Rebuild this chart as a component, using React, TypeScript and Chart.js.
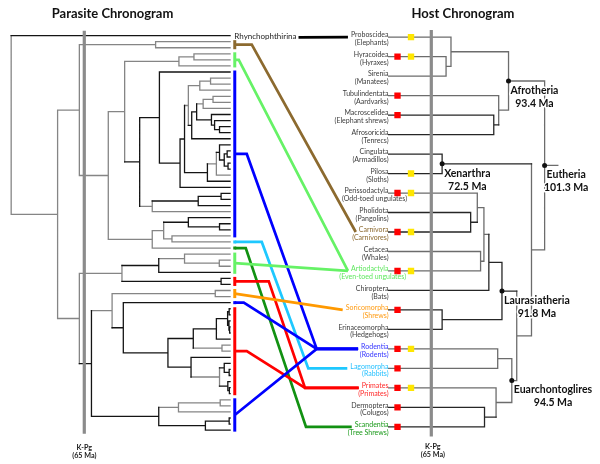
import React, { useEffect, useRef } from 'react';
import { Chart, registerables } from 'chart.js';

Chart.register(...registerables);

// ------------------------------------------------------------------ DATA
// Host orders, top to bottom (row index = position in list)
const hostOrders = ['Proboscidea', 'Hyracoidea', 'Sirenia', 'Tubulindentata', 'Macroscelidea', 'Afrosoricida', 'Cingulata', 'Pilosa', 'Perissodactyla', 'Pholidota', 'Carnivora', 'Cetacea', 'Artiodactyla', 'Chiroptera', 'Soricomorpha', 'Erinaceomorpha', 'Rodentia', 'Lagomorpha', 'Primates', 'Dermoptera', 'Scandentia'];
const hostCommonNames = ['(Elephants)', '(Hyraxes)', '(Manatees)', '(Aardvarks)', '(Elephant shrews)', '(Tenrecs)', '(Armadillos)', '(Sloths)', '(Odd-toed ungulates)', '(Pangolins)', '(Carnivores)', '(Whales)', '(Even-toed ungulates)', '(Bats)', '(Shrews)', '(Hedgehogs)', '(Rodents)', '(Rabbits)', '(Primates)', '(Colugos)', '(Tree Shrews)'];
const hostRedMark = [0, 1, 0, 1, 1, 0, 0, 0, 1, 0, 1, 0, 1, 0, 1, 0, 1, 1, 1, 1, 1];
const hostYellowMark = [1, 1, 0, 0, 0, 0, 0, 1, 1, 0, 1, 0, 1, 0, 0, 0, 1, 0, 1, 0, 0];

// Host tree: [id, depth (tips 0, K-Pg 65), children (row index or node id), tone]
const hostTree = [
  ['Eutheria', 237.7, ['Afrotheria', 'XB'], 'g'],
  ['Afrotheria', 182.7, ['Paen', 'Afi'], 'g'],
  ['Paen', 95, [0, 'HS'], 'g'],
  ['HS', 87.5, [1, 2], 'g'],
  ['Afi', 167.7, [3, 'AfI'], 'g'],
  ['AfI', 160.2, [4, 5], 'k'],
  ['XB', 217.7, ['Xenarthra', 'Boreo'], 'g'],
  ['Xenarthra', 81.5, [6, 7], 'k'],
  ['Boreo', 195.2, ['Laurasiatheria', 'Euarchontoglires'], 'g'],
  ['Laurasiatheria', 172.7, ['Scr', 'Eul'], 'k'],
  ['Scr', 152.7, ['Fer', 13], 'k'],
  ['Fer', 145.2, ['Peg', 'CA'], 'g'],
  ['Peg', 135.1, [8, 'PC'], 'g'],
  ['PC', 125, [9, 10], 'k'],
  ['CA', 140.1, [11, 12], 'g'],
  ['Eul', 81.5, [14, 15], 'k'],
  ['Euarchontoglires', 187.7, ['Gli', 'Euarchonta'], 'g'],
  ['Gli', 166.2, [16, 17], 'g'],
  ['Euarchonta', 163.7, [18, 'DS'], 'g'],
  ['DS', 146.1, [19, 20], 'k'],
];
const hostRootStemDepth = 257.8;
const hostCladeNames = ['Afrotheria', 'Xenarthra', 'Eutheria', 'Laurasiatheria', 'Euarchontoglires'];
const hostCladeAges = ['93.4 Ma', '72.5 Ma', '101.3 Ma', '91.8 Ma', '94.5 Ma'];

// Parasite tree: [id, age (Ma), children (leaf index 0..65 or node id), tone, leafTone?]
const parasiteTree = [
  ['root', 97.6, [0, 'A'], 'g', 'k'],
  ['A', 76.9, ['B', 'L'], 'g'],
  ['B', 67.2, ['C', 'D'], 'g'],
  ['C', 33.2, [1, 2], 'g'],
  ['D', 54.3, ['E', 'U'], 'g'],
  ['E', 47.0, ['F', 'H'], 'g'],
  ['F', 22.8, ['F1', 5], 'g'],
  ['F1', 16.1, [3, 4], 'g'],
  ['H', 40.3, ['I', 'K'], 'k'],
  ['I', 31.5, [6, 'J'], 'k'],
  ['J', 22.3, ['J1', 25], 'k'],
  ['J1', 20.3, ['J2', 'J3'], 'k'],
  ['J2', 18.6, ['Ja', 'Jb'], 'g'],
  ['Ja', 13.5, ['Ja1', 9], 'g'],
  ['Ja1', 8.7, [7, 8], 'g'],
  ['Jb', 17.1, ['Jbb', 17], 'k'],
  ['Jbb', 14.9, ['Jc', 'Je'], 'k'],
  ['Jc', 12.0, ['Jc1', 12], 'g'],
  ['Jc1', 7.6, [10, 11], 'g'],
  ['Je', 8.3, [13, 'Je1'], 'k'],
  ['Je1', 6.9, [14, 'Je2'], 'k'],
  ['Je2', 4.7, [15, 16], 'k'],
  ['J3', 10.1, ['J4', 24], 'k'],
  ['J4', 6.1, ['J5', 23], 'g'],
  ['J5', 4.7, [18, 'J6'], 'k'],
  ['J6', 2.6, ['J7', 'J8'], 'k'],
  ['J7', 1.3, [19, 20], 'k'],
  ['J8', 0.9, [21, 22], 'k'],
  ['K', 34.7, ['S', 29], 'g'],
  ['S', 14.2, ['T', 28], 'k'],
  ['T', 4.0, [26, 27], 'k'],
  ['U', 34.7, ['V', 35], 'g'],
  ['V', 29.6, ['W', 'X'], 'g'],
  ['W', 18.6, [30, 'Y'], 'k'],
  ['Y', 4.7, [31, 32], 'k'],
  ['X', 25.9, [33, 34], 'g'],
  ['L', 67.2, ['M', 'Lb'], 'g'],
  ['M', 48.2, ['N', 'Q'], 'g'],
  ['N', 31.8, ['O', 39], 'k'],
  ['O', 20.3, [36, 'P'], 'g'],
  ['P', 4.8, [37, 38], 'g'],
  ['Q', 4.0, [40, 41], 'k'],
  ['Lb', 61.8, ['Lc', 'Lk'], 'k'],
  ['Lc', 52.6, ['Or', 'Ld'], 'g'],
  ['Or', 6.6, [42, 43], 'g'],
  ['Ld', 47.6, [44, 'Le'], 'k'],
  ['Le', 27.7, ['Lf', 'Li'], 'k'],
  ['Lf', 16.4, ['Lg', 'Q2'], 'k'],
  ['Lg', 6.1, ['Lh', 50], 'k'],
  ['Lh', 1.1, ['Lh1', 'Lh2'], 'k'],
  ['Lh1', 0.4, [45, 46], 'k'],
  ['Lh2', 0.5, [47, 'Lh3'], 'k'],
  ['Lh3', 0.2, [48, 49], 'k'],
  ['Q2', 3.6, [51, 52], 'g'],
  ['Li', 17.4, [53, 'Lj'], 'k'],
  ['Lj', 4.7, ['Lj1', 'Lj3'], 'g'],
  ['Lj1', 2.6, [54, 'Lj2'], 'k'],
  ['Lj2', 0.4, [55, 56], 'k'],
  ['Lj3', 1.0, [57, 'Lj4'], 'k'],
  ['Lj4', 0.3, [58, 59], 'k'],
  ['Lk', 31.8, ['Ll', 'Lm'], 'k'],
  ['Ll', 23.0, ['Ll1', 62], 'g'],
  ['Ll1', 4.4, [60, 61], 'g'],
  ['Lm', 11.0, ['Lm1', 65], 'k'],
  ['Lm1', 0.4, [63, 64], 'k'],
];
const parasiteOutgroupName = 'Rhynchophthirina';

// Parasite clades (leaf ranges) and the host order each is associated with
const parasiteGroupHosts = ['Proboscidea', 'Carnivora', 'Artiodactyla', 'Rodentia', 'Lagomorpha', 'Scandentia', 'Artiodactyla', 'Primates', 'Soricomorpha', 'Rodentia', 'Primates', 'Rodentia'];
const parasiteGroupFirst = [0, 1, 3, 6, 34, 35, 36, 40, 42, 44, 45, 60];
const parasiteGroupLast = [0, 2, 5, 33, 34, 35, 39, 41, 43, 44, 59, 65];

const kpgAge = 65;

// ------------------------------------------------------------------ STYLE / LAYOUT
const WIDTH = 600;
const HEIGHT = 464;
const P_TIP_PX = 229;
const P_KPG_PX = 81;
const P_ROW0_PX = 31.7;
const P_ROW_STEP = 6.19;
const H_TIP_PX = 390;
const H_KPG_PX = 433.3;
const H_ROW0_PX = 33.3;
const H_ROW_STEP = 19.87;
const P_KPG_SPAN = [-0.8, 65.6];
const H_KPG_SPAN = [-0.37, 20.5];
const MARK_RED_PX = 399;
const MARK_YEL_PX = 412.7;
const LABEL_RIGHT_PX = 388.5;
const SUB_RIGHT_OVERRIDE = { 8: 407, 12: 406 };
const BAR_OFFSET_PX = 4.7;
const LINK_KINK_PX = [0, 17, 4, 12, 27, 11, 0, 34, 0, 9, 12, 0];
const LINK_HUB_PX = [null, null, null, 316.7, 308.3, 306, null, 305, null, 316.7, 305, 316.7];

const P_TONES = { k: '#141414', g: '#858585' };
const H_TONES = { k: '#262626', g: '#6c6c6c' };
const HOST_COLORS = {
  Proboscidea: '#000000',
  Carnivora: '#8c6a2f',
  Artiodactyla: '#66f266',
  Rodentia: '#0000ff',
  Lagomorpha: '#1ec8ff',
  Scandentia: '#129112',
  Primates: '#ff0000',
  Soricomorpha: '#ff9900',
};
const HOST_LABEL_COLORS = {
  Carnivora: '#8c6a2f',
  Artiodactyla: '#5fe85f',
  Rodentia: '#3535ff',
  Lagomorpha: '#25c0ff',
  Scandentia: '#1a9a1a',
  Primates: '#ff2a2a',
  Soricomorpha: '#ff9a10',
};
const FONT = 'Lato, "Open Sans", "DejaVu Sans", sans-serif';

// ------------------------------------------------------------------ helpers
function buildTree(nodes: any[], tones: any) {
  const byId = new Map<string, any[]>();
  nodes.forEach((n) => byId.set(n[0], n));
  const yOf = new Map<string, number>();
  const getY = (c: any): number => {
    if (typeof c === 'number') return c;
    if (yOf.has(c)) return yOf.get(c) as number;
    const n = byId.get(c) as any[];
    const ys = n[2].map(getY);
    const y = (ys[0] + ys[ys.length - 1]) / 2;
    yOf.set(c, y);
    return y;
  };
  const segs: any = { k: [], g: [] };
  const push = (tone: string, a: any, b: any) => {
    segs[tone].push(a, b, { x: NaN, y: NaN });
  };
  nodes.forEach((n) => {
    const [, age, children, tone, leafTone] = n;
    const ys = children.map(getY);
    push(tone, { x: age, y: ys[0] }, { x: age, y: ys[ys.length - 1] });
    children.forEach((c: any, i: number) => {
      const isLeaf = typeof c === 'number';
      const cAge = isLeaf ? 0 : (byId.get(c) as any[])[1];
      const cTone = isLeaf ? leafTone || tone : (byId.get(c) as any[])[3];
      push(cTone, { x: age, y: ys[i] }, { x: cAge, y: ys[i] });
    });
  });
  nodes.forEach((n) => getY(n[0]));
  return { segs, yOf, byId, tones };
}

function drawText(ctx: CanvasRenderingContext2D, s: string, x: number, y: number, font: string, color: string, align: CanvasTextAlign, halo = false) {
  ctx.font = font;
  ctx.textAlign = align;
  ctx.textBaseline = 'middle';
  if (halo) {
    ctx.lineWidth = 3;
    ctx.lineJoin = 'round';
    ctx.strokeStyle = '#ffffff';
    ctx.strokeText(s, x, y);
  }
  ctx.fillStyle = color;
  ctx.fillText(s, x, y);
}

export default function App() {
  const ref = useRef<HTMLCanvasElement>(null);

  useEffect(() => {
    document.body.style.margin = '0';
    const canvas = ref.current as HTMLCanvasElement;

    const pTree = buildTree(parasiteTree, P_TONES);
    const hTree = buildTree(hostTree, H_TONES);
    const eut = hTree.byId.get('Eutheria') as any[];
    hTree.segs.g.push({ x: eut[1], y: hTree.yOf.get('Eutheria') }, { x: hostRootStemDepth, y: hTree.yOf.get('Eutheria') }, { x: NaN, y: NaN });

    // scale ranges
    const pxPerMa = (P_TIP_PX - P_KPG_PX) / kpgAge;
    const xPmax = P_TIP_PX / pxPerMa;
    const xPmin = xPmax - WIDTH / pxPerMa;
    const yPmin = -P_ROW0_PX / P_ROW_STEP;
    const yPmax = yPmin + HEIGHT / P_ROW_STEP;
    const pxPerH = (H_KPG_PX - H_TIP_PX) / kpgAge;
    const xHmin = -H_TIP_PX / pxPerH;
    const xHmax = xHmin + WIDTH / pxPerH;
    const yHmin = -H_ROW0_PX / H_ROW_STEP;
    const yHmax = yHmin + HEIGHT / H_ROW_STEP;
    const redDepth = (MARK_RED_PX - H_TIP_PX) / pxPerH;
    const yelDepth = (MARK_YEL_PX - H_TIP_PX) / pxPerH;

    const lineDs = (label: string, data: any[], xa: string, ya: string, color: string, width: number, order: number, cap = 'square') => ({
      label, data, xAxisID: xa, yAxisID: ya, showLine: true, borderColor: color, borderWidth: width,
      pointRadius: 0, pointHoverRadius: 0, spanGaps: false, borderCapStyle: cap, fill: false, order,
    });

    const datasets: any[] = [
      lineDs('parasite-grey', pTree.segs.g, 'xP', 'yP', P_TONES.g, 1.3, 12),
      lineDs('parasite-black', pTree.segs.k, 'xP', 'yP', P_TONES.k, 1.3, 11),
      lineDs('host-grey', hTree.segs.g, 'xH', 'yH', H_TONES.g, 1.3, 12),
      lineDs('host-black', hTree.segs.k, 'xH', 'yH', H_TONES.k, 1.3, 11),
      lineDs('kpg-parasite', [{ x: kpgAge, y: P_KPG_SPAN[0] }, { x: kpgAge, y: P_KPG_SPAN[1] }], 'xP', 'yP', '#8b8b8b', 3.2, 5, 'butt'),
      lineDs('kpg-host', [{ x: kpgAge, y: H_KPG_SPAN[0] }, { x: kpgAge, y: H_KPG_SPAN[1] }], 'xH', 'yH', '#8b8b8b', 3.2, 5, 'butt'),
      {
        label: 'red', xAxisID: 'xH', yAxisID: 'yH', showLine: false, order: 2,
        data: hostRedMark.map((m, i) => (m ? { x: redDepth, y: i } : null)).filter(Boolean),
        pointStyle: 'rect', pointRadius: 4.5, pointBackgroundColor: '#ff0000', pointBorderWidth: 0, pointBorderColor: '#ff0000',
      },
      {
        label: 'yellow', xAxisID: 'xH', yAxisID: 'yH', showLine: false, order: 2,
        data: hostYellowMark.map((m, i) => (m ? { x: yelDepth, y: i } : null)).filter(Boolean),
        pointStyle: 'rect', pointRadius: 4.5, pointBackgroundColor: '#ffe600', pointBorderWidth: 0, pointBorderColor: '#ffe600',
      },
      {
        label: 'clade-nodes', xAxisID: 'xH', yAxisID: 'yH', showLine: false, order: 1,
        data: hostCladeNames.map((n) => ({ x: (hTree.byId.get(n) as any[])[1], y: hTree.yOf.get(n) })),
        pointStyle: 'circle', pointRadius: 2.5, pointBackgroundColor: '#111111', pointBorderWidth: 0,
      },
    ];

    const decor = {
      id: 'chronoDecor',
      afterDatasetsDraw(chart: any) {
        const ctx: CanvasRenderingContext2D = chart.ctx;
        const { xP, yP, xH, yH } = chart.scales;
        ctx.save();
        const tipPx = xP.getPixelForValue(0);
        const barX = tipPx + BAR_OFFSET_PX;
        const nameFont = `7px ${FONT}`;

        // outgroup label
        const outY = yP.getPixelForValue(0) + 1.2;
        drawText(ctx, parasiteOutgroupName, tipPx + 4.3, outY, `8px ${FONT}`, '#222222', 'left');
        ctx.font = `8px ${FONT}`;
        const outEnd = tipPx + 4.3 + ctx.measureText(parasiteOutgroupName).width + 2;

        // association links
        parasiteGroupHosts.forEach((host, g) => {
          const row = hostOrders.indexOf(host);
          const hy = yH.getPixelForValue(row);
          ctx.font = nameFont;
          const endX = LABEL_RIGHT_PX - ctx.measureText(host).width - 3;
          const mid = (parasiteGroupFirst[g] + parasiteGroupLast[g]) / 2;
          const sy = g === 0 ? outY + 0.5 : yP.getPixelForValue(mid);
          const sx = g === 0 ? outEnd : barX;
          ctx.beginPath();
          ctx.moveTo(sx, sy);
          ctx.lineTo(sx + LINK_KINK_PX[g], sy);
          const hub = LINK_HUB_PX[g];
          if (hub !== null) ctx.lineTo(hub as number, hy);
          ctx.lineTo(endX, hy);
          ctx.strokeStyle = (HOST_COLORS as any)[host];
          ctx.lineWidth = 2.7;
          ctx.lineJoin = 'miter';
          ctx.lineCap = 'butt';
          ctx.stroke();
        });

        // clade bars at the parasite tips
        parasiteGroupHosts.forEach((host, g) => {
          if (g === 0) return;
          const y1 = yP.getPixelForValue(parasiteGroupFirst[g]) - 1.5;
          const y2 = yP.getPixelForValue(parasiteGroupLast[g]) + 1.5;
          ctx.beginPath();
          ctx.moveTo(barX, y1);
          ctx.lineTo(barX, y2);
          ctx.strokeStyle = (HOST_COLORS as any)[host];
          ctx.lineWidth = 3;
          ctx.stroke();
        });

        // host labels
        hostOrders.forEach((name, i) => {
          const y = yH.getPixelForValue(i);
          const col = (HOST_LABEL_COLORS as any)[name] || '#3c3c3c';
          drawText(ctx, name, LABEL_RIGHT_PX, y - 2, nameFont, col, 'right');
          const subRight = (SUB_RIGHT_OVERRIDE as any)[i] || LABEL_RIGHT_PX;
          drawText(ctx, hostCommonNames[i], subRight, y + 5.8, nameFont, col, 'right');
        });

        // clade labels
        const cladeFont = `bold 10.5px ${FONT}`;
        hostCladeNames.forEach((name, i) => {
          const n = hTree.byId.get(name) as any[];
          const x = xH.getPixelForValue(n[1]);
          const y = yH.getPixelForValue(hTree.yOf.get(name));
          ctx.font = cladeFont;
          const w = ctx.measureText(name).width;
          drawText(ctx, name, x + 2, y + 9.5, cladeFont, '#111111', 'left', true);
          drawText(ctx, hostCladeAges[i], x + 2 + w / 2, y + 22.5, cladeFont, '#111111', 'center', true);
        });

        // K-Pg labels
        const kFont = `bold 7.2px ${FONT}`;
        const kpx = xP.getPixelForValue(kpgAge);
        const khx = xH.getPixelForValue(kpgAge);
        drawText(ctx, 'K-Pg', kpx, 447.5, kFont, '#1a1a1a', 'center');
        drawText(ctx, '(65 Ma)', kpx, 456, kFont, '#1a1a1a', 'center');
        drawText(ctx, 'K-Pg', khx + 1.5, 446.5, kFont, '#1a1a1a', 'center');
        drawText(ctx, '(65 Ma)', khx + 1.5, 455, kFont, '#1a1a1a', 'center');

        // titles
        drawText(ctx, 'Parasite Chronogram', 112.5, 14, `bold 13px ${FONT}`, '#111111', 'center');
        drawText(ctx, 'Host Chronogram', 463, 14, `bold 13px ${FONT}`, '#111111', 'center');
        ctx.restore();
      },
    };

    const lin = (min: number, max: number, reverse: boolean) => ({
      type: 'linear', display: false, bounds: 'data', min, max, reverse, grace: 0, ticks: { display: false },
    });

    const chart = new Chart(canvas, {
      type: 'scatter',
      data: { datasets },
      options: {
        responsive: false,
        maintainAspectRatio: false,
        animation: false,
        devicePixelRatio: 1,
        events: [],
        layout: { padding: 0 },
        plugins: { legend: { display: false }, tooltip: { enabled: false }, title: { display: false } },
        scales: {
          xP: lin(xPmin, xPmax, true),
          yP: lin(yPmin, yPmax, true),
          xH: lin(xHmin, xHmax, false),
          yH: lin(yHmin, yHmax, true),
        },
      } as any,
      plugins: [decor],
    } as any);

    return () => chart.destroy();
  }, []);

  return (
    <div style={{ position: 'absolute', left: 0, top: 0, width: WIDTH, height: HEIGHT, background: '#ffffff' }}>
      <canvas ref={ref} width={WIDTH} height={HEIGHT} style={{ display: 'block', width: WIDTH, height: HEIGHT }} />
    </div>
  );
}
